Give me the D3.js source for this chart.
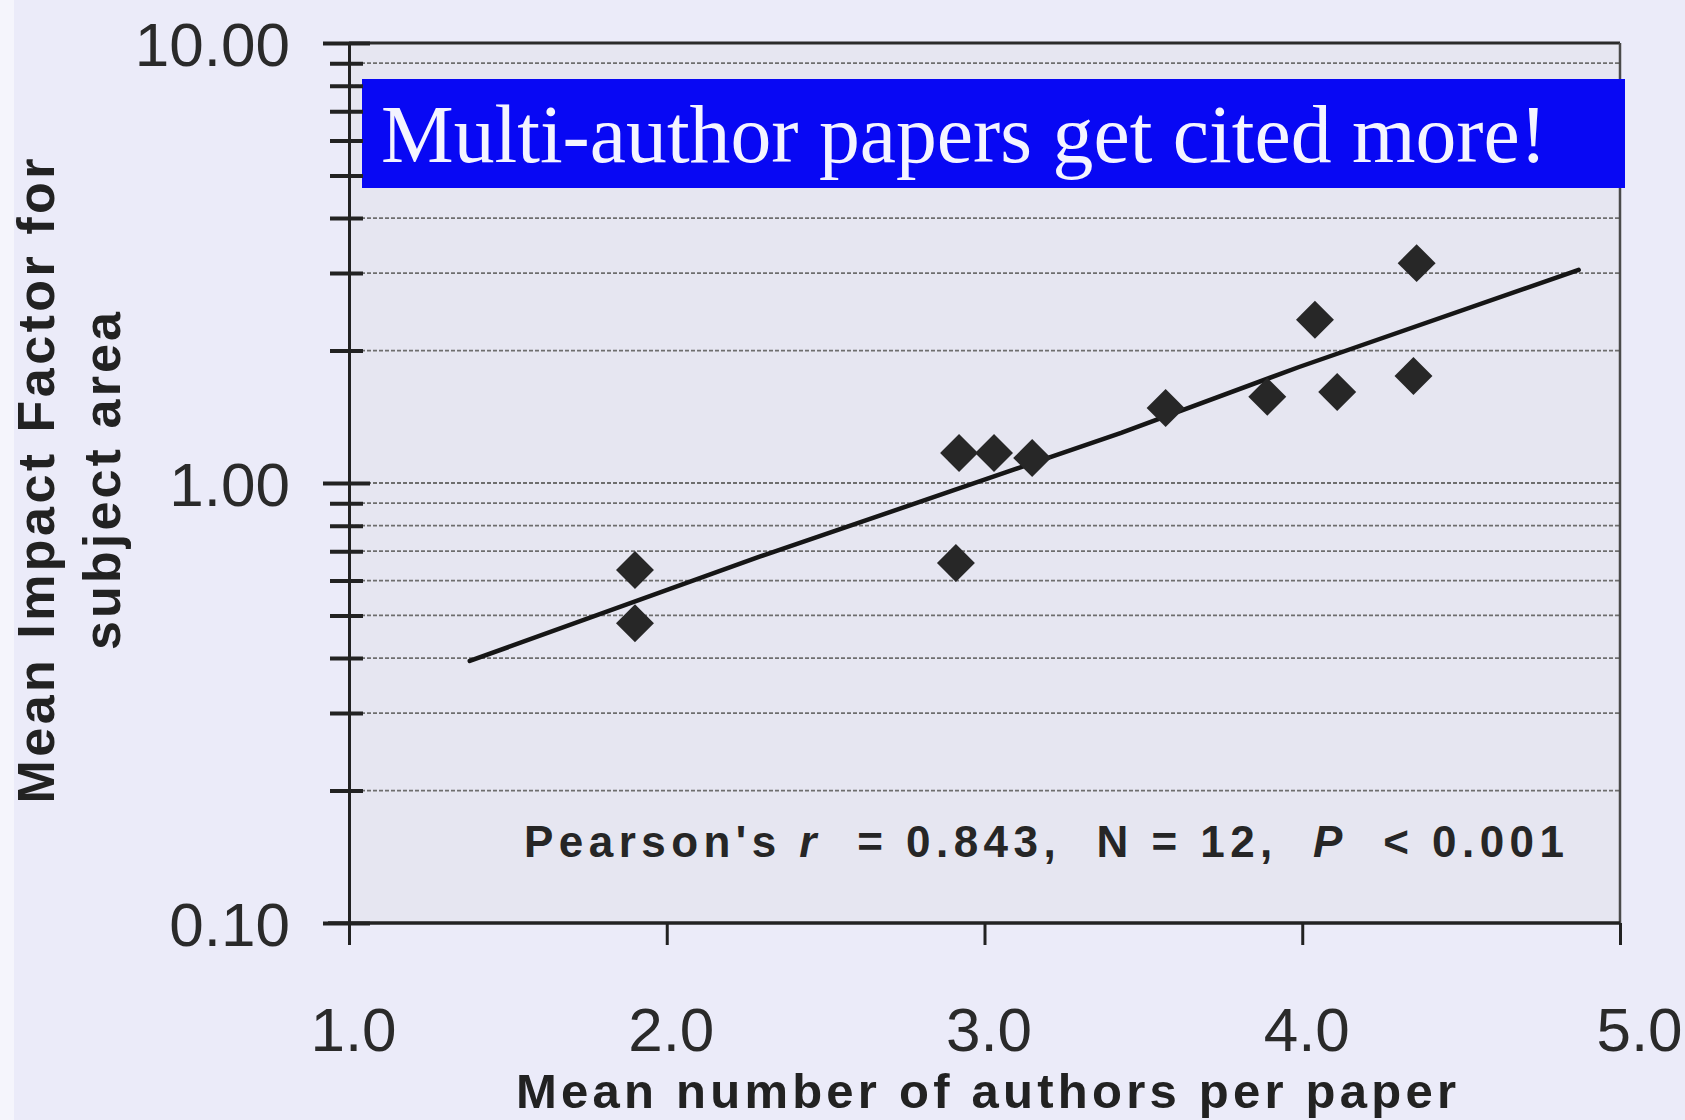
<!DOCTYPE html>
<html>
<head>
<meta charset="utf-8">
<script src="https://cdn.jsdelivr.net/npm/d3@7"></script>
<style>
  body { margin: 0; background: #ebebf9; }
  svg text { font-family: "Liberation Sans", Arial, sans-serif; }
</style>
</head>
<body>
<svg id="chart" width="1685" height="1120"></svg>
<script>
// data
const authors = [1.90, 1.90, 2.92, 3.03, 3.15, 2.91, 3.57, 3.89, 4.04, 4.11, 4.35, 4.36];
const impact  = [0.634, 0.480, 1.17, 1.17, 1.14, 0.658, 1.48, 1.57, 2.35, 1.61, 1.75, 3.16];

// fitted line as drawn in the figure
const trendX = [1.38, 2.29, 3.43, 3.99, 4.87];
const trendY = [0.394, 0.679, 1.30, 1.835, 3.05];

const xTicks = [1, 2, 3, 4, 5];
const yMajor = [0.1, 1, 10];

const bannerText = "Multi-author papers get cited more!";
const xTitle = "Mean number of authors per paper";
const yTitle = ["Mean Impact Factor for", "subject area"];
const statsParts = [
    { t: "Pearson's ", italic: false },
    { t: "r", italic: true },
    { t: "  = 0.843,  N = 12,  ", italic: false },
    { t: "P", italic: true },
    { t: "  < 0.001", italic: false }
];

const svg = d3.select("#chart");
const plotLeft = 349, plotRight = 1620, plotTop = 43, plotBottom = 923;

const x = d3.scaleLinear().domain([1, 5]).range([plotLeft, plotRight]);
const y = d3.scaleLog().domain([0.1, 10]).range([plotBottom, plotTop]);

const isMajor = d => Math.abs(Math.log10(d) - Math.round(Math.log10(d))) < 1e-6;

// background strip on the far left and the plot area
svg.append("rect").attr("x", 0).attr("y", 0).attr("width", 14).attr("height", 1120)
    .style("fill", "#f5f5fc");
svg.append("rect")
    .attr("x", plotLeft).attr("y", plotTop)
    .attr("width", plotRight - plotLeft).attr("height", plotBottom - plotTop)
    .style("fill", "#e6e6f1");

// dotted grid lines at every log tick
const gridTicks = y.ticks().filter(d => d > 0.1 && d < 10);
svg.append("g").selectAll("line")
    .data(gridTicks)
    .enter().append("line")
    .attr("x1", plotLeft).attr("x2", plotRight)
    .attr("y1", d => y(d)).attr("y2", d => y(d))
    .style("stroke", "#6e6e6e")
    .style("stroke-width", 1.8)
    .style("stroke-dasharray", "4,2");

// top and right frame
svg.append("line")
    .attr("x1", plotLeft).attr("x2", plotRight).attr("y1", y(10)).attr("y2", y(10))
    .style("stroke", "#2a2a2a").style("stroke-width", 3);
svg.append("line")
    .attr("x1", x(5)).attr("x2", x(5)).attr("y1", plotTop).attr("y2", plotBottom)
    .style("stroke", "#4a4a4a").style("stroke-width", 2.5);

// banner
svg.append("rect")
    .attr("x", 362).attr("y", 79).attr("width", 1263).attr("height", 109)
    .style("fill", "#0808f4");
svg.append("text")
    .attr("x", 381).attr("y", 162)
    .attr("textLength", 1166)
    .attr("lengthAdjust", "spacingAndGlyphs")
    .style("font-family", "'Liberation Serif', 'Times New Roman', serif")
    .style("font-size", "82px")
    .style("fill", "#f4f4ff")
    .text(bannerText);

// y axis
const yAxis = svg.append("g")
    .attr("transform", `translate(${plotLeft},0)`)
    .call(d3.axisLeft(y)
        .tickValues(y.ticks())
        .tickFormat(d => isMajor(d) ? d.toFixed(2) : "")
        .tickSizeOuter(0));
yAxis.select(".domain").style("stroke", "#222").style("stroke-width", 3);
yAxis.selectAll(".tick line")
    .attr("x1", d => isMajor(d) ? 21 : 14)
    .attr("x2", d => isMajor(d) ? -26 : -19)
    .style("stroke", "#222")
    .style("stroke-width", 4);
yAxis.selectAll(".tick text")
    .attr("x", -59)
    .attr("dy", "0.36em")
    .style("font-size", "62px")
    .style("fill", "#2a2a2a");

// x axis
const xAxis = svg.append("g")
    .attr("transform", `translate(0,${plotBottom})`)
    .call(d3.axisBottom(x)
        .tickValues(xTicks)
        .tickFormat(d3.format(".1f"))
        .tickSize(22)
        .tickSizeOuter(0));
xAxis.select(".domain").remove();
xAxis.selectAll(".tick line").style("stroke", "#222").style("stroke-width", 3);
xAxis.selectAll(".tick text")
    .attr("y", 128)
    .attr("dy", 0)
    .attr("dx", d => d === 5 ? 19 : 4)
    .style("font-size", "62px")
    .style("fill", "#2a2a2a");
svg.append("line")
    .attr("x1", plotLeft - 21).attr("x2", plotRight)
    .attr("y1", plotBottom).attr("y2", plotBottom)
    .style("stroke", "#222").style("stroke-width", 3.5);

// fitted line
const line = d3.line()
    .x((d, i) => x(trendX[i]))
    .y(d => y(d));
svg.append("path")
    .datum(trendY)
    .attr("d", line)
    .style("fill", "none")
    .style("stroke", "#161616")
    .style("stroke-width", 4.5)
    .style("stroke-linecap", "round");

// points
const points = authors.map((a, i) => ({ x: a, y: impact[i] }));
svg.selectAll(".point")
    .data(points)
    .enter().append("path")
    .attr("class", "point")
    .attr("d", d3.symbol(d3.symbolSquare, 720))
    .attr("transform", d => `translate(${x(d.x)},${y(d.y)}) rotate(45)`)
    .style("fill", "#272727");

// stats note
const stats = svg.append("text")
    .attr("x", 524).attr("y", 857)
    .attr("textLength", 1040)
    .attr("lengthAdjust", "spacing")
    .style("white-space", "pre")
    .style("font-size", "44px")
    .style("font-weight", "bold")
    .style("fill", "#262626");
statsParts.forEach(p => {
    stats.append("tspan")
        .style("font-style", p.italic ? "italic" : "normal")
        .text(p.t);
});

// axis titles
svg.append("text")
    .attr("x", 986).attr("y", 1108)
    .attr("text-anchor", "middle")
    .attr("textLength", 940)
    .attr("lengthAdjust", "spacing")
    .style("font-size", "49px")
    .style("font-weight", "bold")
    .style("fill", "#222")
    .text(xTitle);

const yTitleX = [54, 120];
const yTitleLen = [645, 338];
yTitle.forEach((t, i) => {
    svg.append("text")
        .attr("transform", `translate(${yTitleX[i]},481) rotate(-90)`)
        .attr("text-anchor", "middle")
        .attr("textLength", yTitleLen[i])
        .attr("lengthAdjust", "spacing")
        .style("font-size", "52px")
        .style("font-weight", "bold")
        .style("fill", "#222")
        .text(t);
});
</script>
</body>
</html>
